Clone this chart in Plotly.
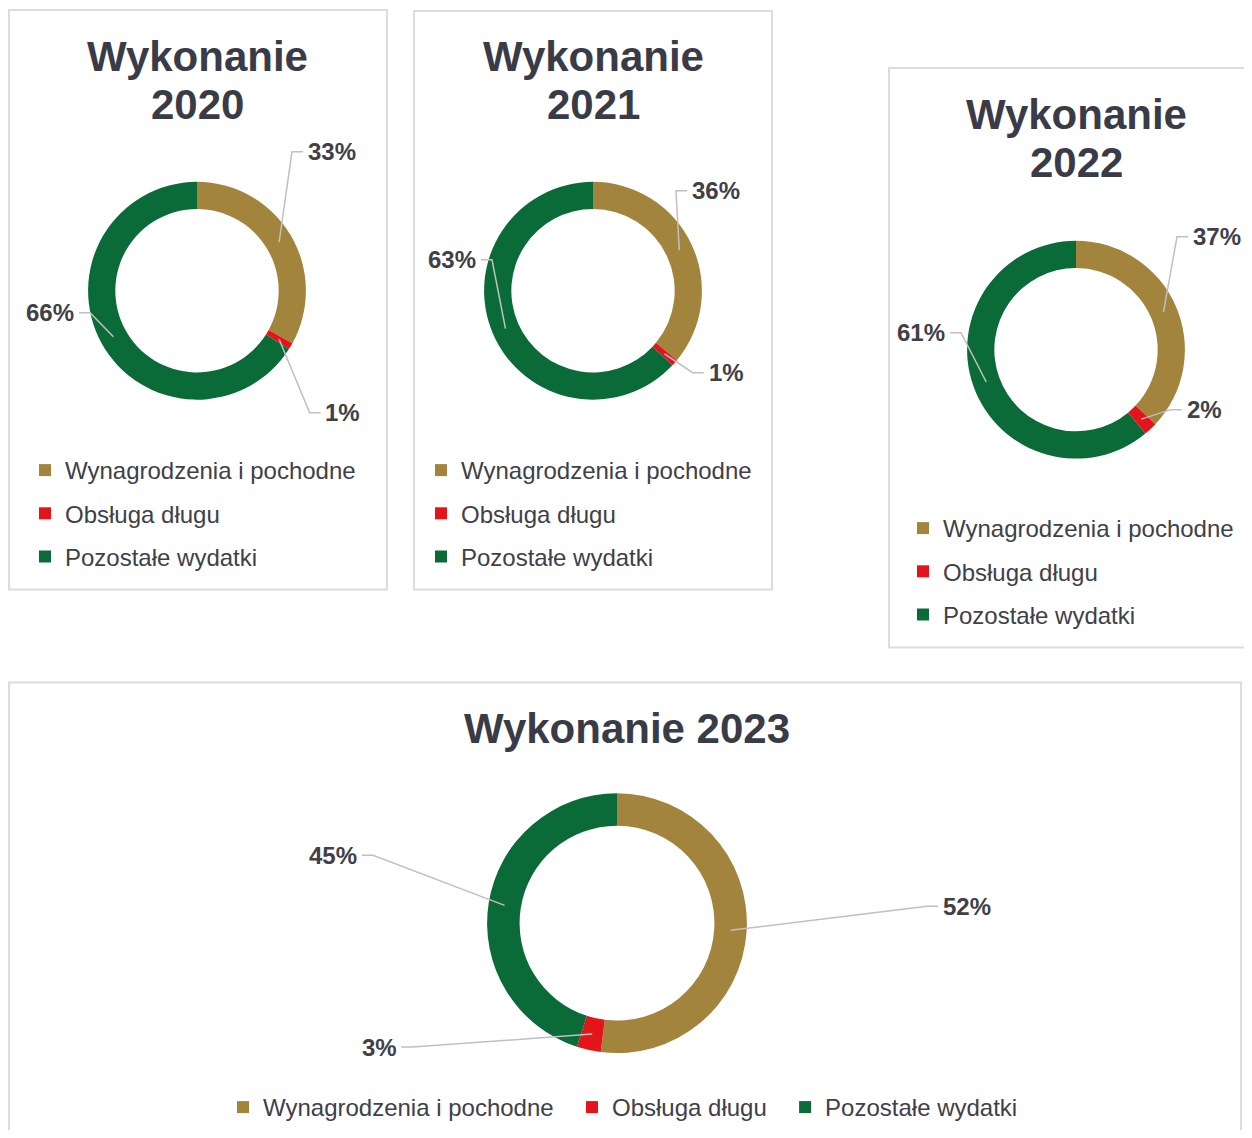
import math
import plotly.graph_objects as go

# ---------------- data ----------------
categories = ["Wynagrodzenia i pochodne", "Obsługa długu", "Pozostałe wydatki"]
titles = ["Wykonanie 2020", "Wykonanie 2021", "Wykonanie 2022", "Wykonanie 2023"]
values_2020 = [33, 1, 66]
values_2021 = [36, 1, 63]
values_2022 = [37, 2, 61]
values_2023 = [52, 3, 45]
series = [values_2020, values_2021, values_2022, values_2023]

# ---------------- style / layout ----------------
W, H = 1252, 1138
OFF = 8  # page body margin
FW, FH = W - OFF, H - 2 * OFF
colors = ["#a3843d", "#e3151b", "#0a6a38"]
TITLE_C = "#393b47"
TEXT_C = "#404048"
FONT = "Liberation Sans"
HOLE = 0.75

# center (px), outer radius (px)
donuts = [
    dict(cx=197, cy=291, R=109),
    dict(cx=593, cy=291, R=109),
    dict(cx=1076, cy=350, R=109),
    dict(cx=617, cy=924, R=130),
]
# title lines: (x, y) for each line
title_pos = [
    [(197, 57), (197, 105)],
    [(593, 57), (593, 105)],
    [(1076, 115), (1076, 163)],
    [(627, 729)],
]
# label text centres and which side the leader attaches (-1 left, +1 right)
label_pos = [
    [(332, 152, -1), (343, 413, -1), (50, 313, 1)],
    [(716, 191, -1), (726, 373, -1), (452, 260, 1)],
    [(1217, 237, -1), (1204, 410, -1), (921, 333, 1)],
    [(967, 907, -1), (379, 1048, 1), (333, 856, 1)],
]
panels = [(9, 10, 387, 590), (414, 11, 772, 590), (889, 68, 1262, 648), (9, 683, 1241, 1150)]
legend_pos = [(25, 448), (421, 448), (903, 506), (223, 1086)]


def px(x):
    return (x - OFF) / FW


def py(y):
    return 1 - (y - OFF) / FH


fig = go.Figure()
shapes = []
annotations = []

for k, vals in enumerate(series):
    d = donuts[k]
    cx, cy, R = d["cx"], d["cy"], d["R"]
    fig.add_trace(go.Pie(
        labels=categories, values=vals, hole=HOLE, sort=False,
        direction="clockwise", rotation=0,
        marker=dict(colors=colors, line=dict(width=0)),
        textinfo="none", hoverinfo="label+percent", showlegend=False,
        domain=dict(x=[px(cx - R), px(cx + R)], y=[py(cy + R), py(cy - R)]),
    ))
    # legend entries
    leg = "legend" if k == 0 else f"legend{k + 1}"
    for i, cat in enumerate(categories):
        name = cat + ("\u00a0\u00a0" if (k == 3 and i < 2) else "")
        fig.add_trace(go.Scatter(
            x=[None], y=[None], mode="markers", name=name,
            marker=dict(symbol="square", size=12, color=colors[i], line=dict(width=0)),
            legend=leg, legendgroup=f"g{k}_{i}", showlegend=True, hoverinfo="skip",
        ))
    # labels + leader lines
    total = sum(vals)
    cum = 0
    rmid = R * (1 + HOLE) / 2
    for i, v in enumerate(vals):
        frac_mid = (cum + v / 2) / total
        cum += v
        ang = frac_mid * 2 * math.pi
        ax_ = cx + rmid * math.sin(ang)
        ay_ = cy - rmid * math.cos(ang)
        pct = round(v / total * 100)
        txt = f"{pct}%"
        lx, ly, side = label_pos[k][i]
        fs = 24
        w = (0.556 * (len(txt) - 1) + 0.889) * fs
        if side < 0:
            xe = lx - w / 2 - 5
            xb = xe - 11
        else:
            xe = lx + w / 2 + 5
            xb = xe + 11
        shapes.append(dict(
            type="path", xref="paper", yref="paper",
            path=f"M {px(ax_)},{py(ay_)} L {px(xb)},{py(ly)} L {px(xe)},{py(ly)}",
            line=dict(color="#c0c0c4", width=1.5),
        ))
        annotations.append(dict(
            x=px(lx), y=py(ly), xref="paper", yref="paper", text=f"<b>{txt}</b>",
            showarrow=False, xanchor="center", yanchor="middle",
            font=dict(family=FONT, size=fs, color=TEXT_C),
        ))
    # title
    lines = titles[k].split(" ") if len(title_pos[k]) == 2 else [titles[k]]
    for (tx, ty), t in zip(title_pos[k], lines):
        annotations.append(dict(
            x=px(tx), y=py(ty), xref="paper", yref="paper", text=f"<b>{t}</b>",
            showarrow=False, xanchor="center", yanchor="middle",
            font=dict(family=FONT, size=42, color=TITLE_C),
        ))

for (x0, y0, x1, y1) in panels:
    shapes.append(dict(type="rect", xref="paper", yref="paper",
                       x0=px(x0), x1=px(x1), y0=py(y1), y1=py(y0),
                       line=dict(color="#dcdcdf", width=2), layer="below"))

legend_common = dict(font=dict(family=FONT, size=24, color=TEXT_C),
                     bgcolor="rgba(0,0,0,0)", tracegroupgap=9,
                     xanchor="left", yanchor="top", itemclick=False, itemdoubleclick=False)
layout_legends = {}
for k, (lx, ly) in enumerate(legend_pos):
    name = "legend" if k == 0 else f"legend{k + 1}"
    cfg = dict(legend_common, x=px(lx), y=py(ly))
    if k == 3:
        cfg.update(orientation="h", tracegroupgap=0)
    layout_legends[name] = cfg

fig.update_layout(
    width=FW, height=FH,
    margin=dict(l=0, r=0, t=0, b=0),
    paper_bgcolor="white", plot_bgcolor="white",
    xaxis=dict(visible=False), yaxis=dict(visible=False),
    shapes=shapes, annotations=annotations,
    **layout_legends,
)

fig.write_html("out.html")
